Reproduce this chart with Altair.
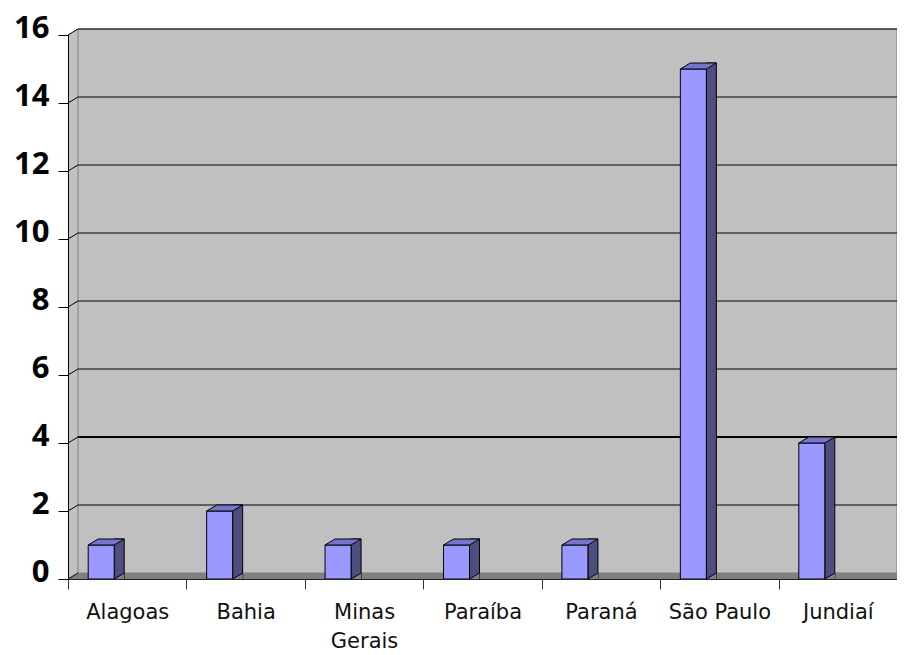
import altair as alt
import pandas as pd

# ---- data ----
categories = ["Alagoas", "Bahia", "Minas Gerais", "Paraíba", "Paraná", "São Paulo", "Jundiaí"]
values = [1, 2, 1, 1, 1, 15, 4]
y_ticks = [0, 2, 4, 6, 8, 10, 12, 14, 16]
y_max = 16

# ---- geometry / style ----
W = 829          # plot width (px)
H = 544          # plot height (px)
DX, DY = 10, 6   # 3-D depth offset
BAR_W = 26
BAR_SHIFT = -26  # front-face centre relative to band centre

df = pd.DataFrame({"cat": categories, "value": values})
df["zero"] = 0
grid_df = pd.DataFrame({"v": y_ticks})
wall_df = pd.DataFrame({"top": [y_max], "bot": [0]})

y_scale = alt.Scale(domain=[0, y_max], nice=False, zero=True)
y_axis = alt.Axis(values=y_ticks, title=None, grid=False, domainColor="black",
                  tickColor="black", tickSize=10, labelFont="Open Sans",
                  labelFontWeight="bold", labelFontSize=31, labelColor="black",
                  labelPadding=9, labelOffset=-7, zindex=1)
x_axis = alt.Axis(title=None, tickBand="extent", labelAngle=0, domainColor="#222",
                  tickColor="#333", tickSize=10, labelFont="DejaVu Sans",
                  labelFontSize=21, labelColor="#111", labelPadding=12,
                  labelLineHeight=29, labelBaseline="top",
                  labelExpr="datum.label == 'Minas Gerais' ? ['Minas', 'Gerais'] : datum.label",
                  zindex=1)


def Y(field):
    return alt.Y(f"{field}:Q", scale=y_scale, axis=y_axis, stack=None)


X = alt.X("cat:N", sort=categories,
          scale=alt.Scale(type="band", paddingInner=0, paddingOuter=0), axis=x_axis)

base_wall = alt.Chart(wall_df)

side_wall = base_wall.mark_point(
    shape=f"M0,0L{DX},{-DY}L{DX},{-DY - H}L0,{-H}Z", size=4, filled=True,
    fill="#C0C0C0", strokeWidth=0, opacity=1
).encode(x=alt.value(0), y=Y("bot"))

back_wall = base_wall.mark_rect(
    fill="#C0C0C0", stroke="#808080", strokeWidth=1, yOffset=-DY, y2Offset=-DY
).encode(x=alt.value(DX), x2=alt.value(W), y=Y("top"), y2="bot:Q")

grid = alt.Chart(grid_df).transform_filter("datum.v > 0").mark_rule(
    yOffset=-DY, color="black"
).encode(
    x=alt.value(DX), x2=alt.value(W), y=Y("v"),
    strokeWidth=alt.condition("datum.v == 4", alt.value(2), alt.value(1)),
)

floor = base_wall.mark_point(
    shape=f"M0,0L{DX},{-DY}L{W},{-DY}L{W},0Z", size=4, filled=True,
    fill="#808080", strokeWidth=0, opacity=1
).encode(x=alt.value(0), y=Y("bot"))

diag = alt.Chart(grid_df).mark_rule(y2Offset=-DY, color="black", strokeWidth=1).encode(
    x=alt.value(0), x2=alt.value(DX), y=Y("v"), y2="v:Q"
)

bars = alt.Chart(df)

side = bars.mark_bar(
    width=DX, xOffset=BAR_SHIFT + BAR_W / 2 + DX / 2, yOffset=-DY,
    fill="#4D4D80", stroke="black", strokeWidth=1
).encode(x=X, y=Y("value"))

front = bars.mark_bar(
    width=BAR_W, xOffset=BAR_SHIFT, fill="#9999FF", stroke="black", strokeWidth=1
).encode(x=X, y=Y("value"))

top = bars.mark_point(
    shape=f"M0,0L{DX},{-DY}L{DX + BAR_W},{-DY}L{BAR_W},0Z", size=4, filled=True,
    fill="#7575CC", stroke="black", strokeWidth=1, opacity=1,
    xOffset=BAR_SHIFT - BAR_W / 2
).encode(x=X, y=Y("value"))

cover = bars.mark_point(
    shape=f"M0,0L{DX},{-DY}L{DX},0Z", size=4, filled=True, fill="#808080",
    strokeWidth=0, opacity=1, xOffset=BAR_SHIFT + BAR_W / 2
).encode(x=X, y=Y("zero"))

cover_edge = bars.mark_point(
    shape=f"M0,0L{DX},{-DY}", size=4, filled=False, stroke="black",
    strokeWidth=1, opacity=1, xOffset=BAR_SHIFT + BAR_W / 2
).encode(x=X, y=Y("zero"))

chart = alt.layer(
    side_wall, back_wall, grid, floor, diag, side, front, top, cover, cover_edge
).properties(
    width=W, height=H,
    autosize=alt.AutoSizeParams(type="none"),
    padding={"left": 60, "top": 27, "right": 0, "bottom": 70},
).configure_view(strokeWidth=0)

chart.save("out.html", embed_options={"renderer": "svg", "actions": False})
